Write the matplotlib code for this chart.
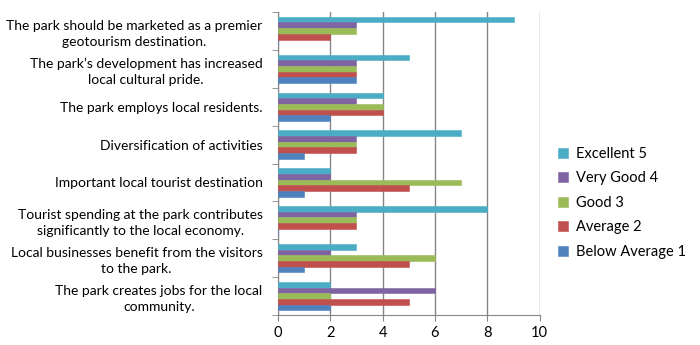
import matplotlib.pyplot as plt
import numpy as np

plt.rcParams['font.family'] = ['Lato', 'DejaVu Sans']

# Statements, top to bottom as shown
categories = [
    'The park should be marketed as a premier\ngeotourism destination.',
    'The park\u2019s development has increased\nlocal cultural pride.',
    'The park employs local residents.',
    'Diversification of activities',
    'Important local tourist destination',
    'Tourist spending at the park contributes\nsignificantly to the local economy.',
    'Local businesses benefit from the visitors\nto the park.',
    'The park creates jobs for the local\ncommunity.',
]

excellent = [9, 5, 4, 7, 2, 8, 3, 2]
very_good = [3, 3, 3, 3, 2, 3, 2, 6]
good = [3, 3, 4, 3, 7, 3, 6, 2]
average = [2, 3, 4, 3, 5, 3, 5, 5]
below_avg = [0, 3, 2, 1, 1, 0, 1, 2]

series = [
    ('Excellent 5', excellent, '#4BACC6'),
    ('Very Good 4', very_good, '#8064A2'),
    ('Good 3', good, '#9BBB59'),
    ('Average 2', average, '#C0504D'),
    ('Below Average 1', below_avg, '#4F81BD'),
]

fig = plt.figure(figsize=(7, 3.45), dpi=100)
ax = fig.add_axes([0.397, 0.087, 0.374, 0.878])

n = len(categories)
y = np.arange(n)[::-1].astype(float)
h = 0.15
for i, (label, vals, color) in enumerate(series):
    ax.barh(y + (2 - i) * h, vals, height=h, color=color, label=label,
            edgecolor=color, linewidth=0.4, zorder=3)

ax.set_xlim(0, 10)
ax.set_ylim(-0.5, n - 0.5)
ax.set_xticks([0, 2, 4, 6, 8, 10])
ax.tick_params(axis='x', labelsize=10.5, length=4, color='#868686', pad=4)
ax.grid(axis='x', color='#868686', linewidth=1, zorder=0)

ax.set_yticks(y)
ax.set_yticklabels(categories, fontsize=10, multialignment='center', linespacing=1.35)
ax.tick_params(axis='y', which='major', length=0, pad=11)
ax.set_yticks(np.arange(n + 1) - 0.5, minor=True)
ax.tick_params(axis='y', which='minor', length=4, color='#868686')

for side in ['top', 'right']:
    ax.spines[side].set_visible(False)
for side in ['left', 'bottom']:
    ax.spines[side].set_color('#868686')

ax.legend(loc='center left', bbox_to_anchor=(1.02, 0.37), frameon=False,
          fontsize=10.5, handlelength=0.7, handleheight=0.7,
          labelspacing=0.72, handletextpad=0.5)

fig.savefig('out.png', dpi=100)
